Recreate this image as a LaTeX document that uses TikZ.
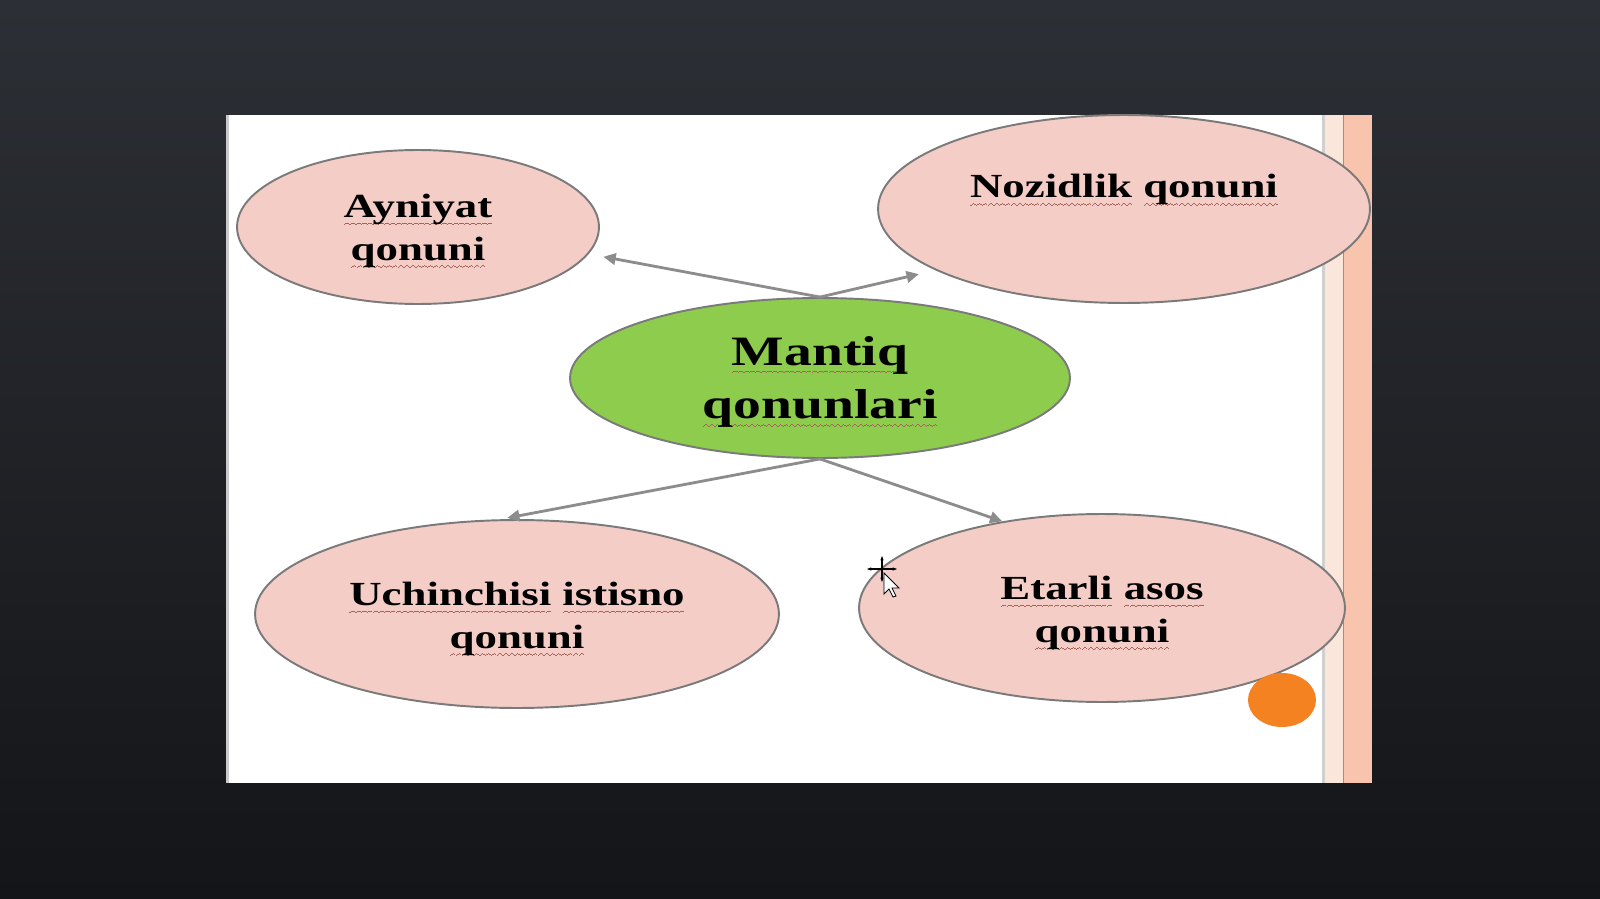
\documentclass[tikz,border=0pt]{standalone}
\usepackage{fontspec}
\setmainfont{Liberation Serif}[FakeStretch=1.33]
\usepackage{xcolor}
\usepackage{tikz}
\usetikzlibrary{shapes.geometric, arrows.meta, positioning}
\definecolor{bgtop}{RGB}{44, 47, 53}
\definecolor{bgbottom}{RGB}{20, 21, 24}
\definecolor{lawfill}{RGB}{244, 205, 199}
\definecolor{lawborder}{RGB}{122, 122, 122}
\definecolor{mainfill}{RGB}{142, 204, 78}
\definecolor{linkgray}{RGB}{140, 140, 140}
\definecolor{stripelight}{RGB}{251, 230, 219}
\definecolor{stripepeach}{RGB}{249, 196, 173}
\definecolor{dotorange}{RGB}{245, 130, 32}
\definecolor{squigcolor}{RGB}{165, 100, 90}
% wavy spell-check line under a word
\newcommand{\squigbit}{\hbox{\rule[-4.6pt]{0.8pt}{0.55pt}\rule[-4.1pt]{0.8pt}{0.55pt}\rule[-3.6pt]{0.8pt}{0.55pt}\rule[-4.1pt]{0.8pt}{0.55pt}}}
\newcommand{\squig}[1]{\setbox0\hbox{#1}\rlap{\hbox to\wd0{\color{squigcolor}\xleaders\squigbit\hfill}}#1}
\newcommand{\lawfont}{\fontsize{19.2}{24.4}\selectfont\bfseries}
\newcommand{\mainfont}{\fontsize{23.8}{30.6}\selectfont\bfseries}

\begin{document}
\begin{tikzpicture}[
    x=0.02cm, y=-0.02cm,
    law/.style={draw=lawborder, fill=lawfill, ellipse, line width=1.1pt, inner sep=0pt},
    mainlaw/.style={law, fill=mainfill},
    lawtext/.style={align=center, font=\lawfont, inner sep=0pt},
    maintext/.style={align=center, font=\mainfont, inner sep=0pt},
    link/.style={-{Triangle[length=7pt, width=6.5pt]}, draw=linkgray, line width=1.6pt}
]
    % Background and slide
    \shade[top color=bgtop, bottom color=bgbottom] (0,0) rectangle (1600,899);
    \fill[white] (226,115) rectangle (1372,783);
    \fill[lawborder!40] (226,115) rectangle (229,783);
    \fill[stripelight] (1325,115) rectangle (1343,783);
    \fill[lawborder!35] (1322,115) rectangle (1325,783);
    \fill[stripepeach] (1343,115) rectangle (1372,783);
    \draw[stripepeach!70!black, line width=0.4pt] (1343,115) -- (1343,783);

    % Central law
    \node[mainlaw, minimum width=10cm, minimum height=3.2cm] (mantiq) at (820,378) {};
    \node[maintext] (mantiq-text) at (820,382) {\squig{Mantiq}\\\squig{qonunlari}};

    % Ayniyat
    \node[law, minimum width=7.24cm, minimum height=3.08cm] (ayniyat) at (418,227) {};
    \node[lawtext] (ayniyat-text) at (418,231) {\squig{Ayniyat}\\\squig{qonuni}};

    % Nozidlik
    \node[law, minimum width=9.84cm, minimum height=3.76cm] (nozidlik) at (1124,209) {};
    \node[lawtext] (nozidlik-text) at (1124,190) {\squig{Nozidlik} \squig{qonuni}};

    % Uchinchisi istisno
    \node[law, minimum width=10.48cm, minimum height=3.76cm] (uchinchi) at (517,614) {};
    \node[lawtext] (uchinchi-text) at (517,619) {\squig{Uchinchisi} \squig{istisno}\\\squig{qonuni}};

    % Etarli asos
    \node[law, minimum width=9.72cm, minimum height=3.76cm] (etarli) at (1102,608) {};
    \node[lawtext] (etarli-text) at (1102,613) {\squig{Etarli} \squig{asos}\\\squig{qonuni}};

    % Orange dot
    \node[ellipse, fill=dotorange, inner sep=0pt, minimum width=1.36cm, minimum height=1.08cm] (dot) at (1282,700) {};

    % Connections
    \draw[link, shorten >=0.3cm] (mantiq.north) -- (ayniyat.-9);
    \draw[link, shorten >=0.34cm] (mantiq.north) -- (nozidlik.198);
    \draw[link, shorten >=0.14cm] (mantiq.south) -- (uchinchi.100);
    \draw[link] (mantiq.south) -- (etarli.139);

    % Mouse cursor
    \draw[line width=0.8pt, {Stealth[length=2.5pt]}-{Stealth[length=2.5pt]}] (867,569) -- (897,569);
    \draw[line width=0.8pt, {Stealth[length=2.5pt]}-{Stealth[length=2.5pt]}] (882,556) -- (882,582);
    \draw[fill=white, line width=0.5pt] (884,573) -- (884,594) -- (889,589) -- (893,597) -- (896,596) -- (892,588) -- (899,588) -- cycle;
\end{tikzpicture}
\end{document}
